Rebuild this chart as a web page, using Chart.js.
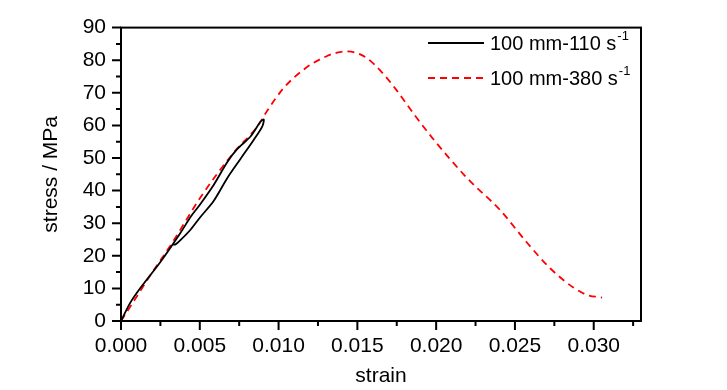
<!DOCTYPE html>
<html>
<head>
<meta charset="utf-8">
<script src="https://cdn.jsdelivr.net/npm/chart.js@4"></script>
<style>
  html, body { margin: 0; padding: 0; background: #fff; }
  #wrap { width: 727px; height: 390px; }
</style>
</head>
<body>
<div id="wrap"><canvas id="chart"></canvas></div>
<script>
// 100 mm - 110 s-1 (loading then unloading loop)
const strain110 = [0, 0.0006, 0.00124, 0.0025, 0.00377, 0.00441, 0.00504, 0.00589, 0.00674, 0.00737, 0.00822, 0.00885, 0.00906,
                   0.00896, 0.00843, 0.00758, 0.00674, 0.00589, 0.00504, 0.00441, 0.00377, 0.00346, 0.00325];
const stress110 = [0, 5.7, 10.2, 18.1, 27.0, 31.9, 35.9, 41.8, 48.7, 52.7, 56.6, 61.1, 61.8,
                   59.6, 55.6, 49.7, 43.8, 36.9, 31.9, 28.0, 24.8, 23.5, 23.5];

// 100 mm - 380 s-1
const strain380 = [0, 0.0008, 0.00187, 0.00325, 0.00504, 0.00716, 0.00864, 0.00928, 0.01033, 0.01181, 0.01308, 0.0137, 0.0143,
                   0.0149, 0.01562, 0.01668, 0.01752, 0.01858, 0.01985, 0.02197, 0.02408, 0.02577, 0.02725, 0.02873, 0.02958, 0.03053];
const stress380 = [0, 6.0, 14.1, 24.0, 37.9, 51.7, 59.6, 64.5, 71.5, 77.9, 81.3, 82.3, 82.7,
                   82.3, 80.6, 75.6, 70.6, 63.5, 55.6, 43.8, 33.9, 24.0, 16.1, 10.2, 8.0, 7.2];

const xTicks = [0, 0.005, 0.010, 0.015, 0.020, 0.025, 0.030];
const xMinorTicks = [0.0025, 0.0075, 0.0125, 0.0175, 0.0225, 0.0275, 0.0325];
const yTicks = [0, 10, 20, 30, 40, 50, 60, 70, 80, 90];
const yMinorTicks = [5, 15, 25, 35, 45, 55, 65, 75, 85];

const seriesNames = ['100 mm-110 s', '100 mm-380 s'];
const seriesSup = '-1';

const FONT = "'Liberation Sans', Arial, sans-serif";

const toPoints = (xs, ys) => xs.map((x, i) => ({ x: x, y: ys[i] }));

// frame, tick marks and legend
const decor = {
  id: 'decor',
  afterDraw(chart) {
    const ctx = chart.ctx;
    const a = chart.chartArea;
    const xs = chart.scales.x, ys = chart.scales.y;
    ctx.save();
    ctx.strokeStyle = '#000';
    ctx.lineWidth = 2;
    ctx.strokeRect(a.left, a.top, a.right - a.left, a.bottom - a.top);
    ctx.beginPath();
    xTicks.forEach(v => { const p = xs.getPixelForValue(v); ctx.moveTo(p, a.bottom); ctx.lineTo(p, a.bottom + 9); });
    xMinorTicks.forEach(v => { const p = xs.getPixelForValue(v); ctx.moveTo(p, a.bottom); ctx.lineTo(p, a.bottom + 5); });
    yTicks.forEach(v => { const p = ys.getPixelForValue(v); ctx.moveTo(a.left, p); ctx.lineTo(a.left - 9, p); });
    yMinorTicks.forEach(v => { const p = ys.getPixelForValue(v); ctx.moveTo(a.left, p); ctx.lineTo(a.left - 5, p); });
    ctx.stroke();

    // legend
    const lx = 428, rows = [43, 78];
    chart.data.datasets.forEach((ds, i) => {
      const y = rows[i];
      ctx.beginPath();
      ctx.strokeStyle = ds.borderColor;
      ctx.lineWidth = ds.borderWidth;
      ctx.setLineDash(ds.borderDash || []);
      ctx.moveTo(lx, y);
      ctx.lineTo(lx + 56, y);
      ctx.stroke();
      ctx.setLineDash([]);
      ctx.fillStyle = '#000';
      ctx.textBaseline = 'middle';
      ctx.font = '20px ' + FONT;
      ctx.fillText(seriesNames[i], lx + 62, y + 1);
      const w = ctx.measureText(seriesNames[i]).width;
      ctx.font = '13px ' + FONT;
      ctx.fillText(seriesSup, lx + 63 + w, y - 7);
    });
    ctx.restore();
  }
};

new Chart(document.getElementById('chart'), {
  type: 'scatter',
  data: {
    datasets: [
      {
        label: seriesNames[0],
        data: toPoints(strain110, stress110),
        showLine: true,
        borderColor: '#000000',
        borderWidth: 1.8,
        pointRadius: 0,
        tension: 0.3
      },
      {
        label: seriesNames[1],
        data: toPoints(strain380, stress380),
        showLine: true,
        borderColor: '#ff0000',
        borderWidth: 1.8,
        borderDash: [7, 5],
        pointRadius: 0,
        cubicInterpolationMode: 'monotone'
      }
    ]
  },
  options: {
    responsive: true,
    maintainAspectRatio: false,
    animation: false,
    layout: { padding: { top: 17, right: 86, bottom: 0, left: 0 } },
    plugins: { legend: { display: false }, tooltip: { enabled: false } },
    scales: {
      x: {
        type: 'linear',
        min: 0,
        max: 0.033,
        afterBuildTicks: s => { s.ticks = xTicks.map(v => ({ value: v })); },
        afterFit: s => { s.height = 69; },
        grid: { display: false, drawTicks: false },
        border: { display: false },
        ticks: {
          padding: 13,
          color: '#000',
          font: { family: FONT, size: 21 },
          maxRotation: 0,
          callback: v => v.toFixed(3)
        },
        title: { display: true, text: 'strain', color: '#000', font: { family: FONT, size: 21 }, padding: { top: 0, bottom: 1 } }
      },
      y: {
        min: 0,
        max: 90,
        afterBuildTicks: s => { s.ticks = yTicks.map(v => ({ value: v })); },
        afterFit: s => { s.width = 121; },
        grid: { display: false, drawTicks: false },
        border: { display: false },
        ticks: {
          padding: 15,
          color: '#000',
          font: { family: FONT, size: 21 }
        },
        title: { display: true, text: 'stress / MPa', color: '#000', font: { family: FONT, size: 21 }, padding: { top: 39, bottom: 0 } }
      }
    }
  },
  plugins: [decor]
});
</script>
</body>
</html>
